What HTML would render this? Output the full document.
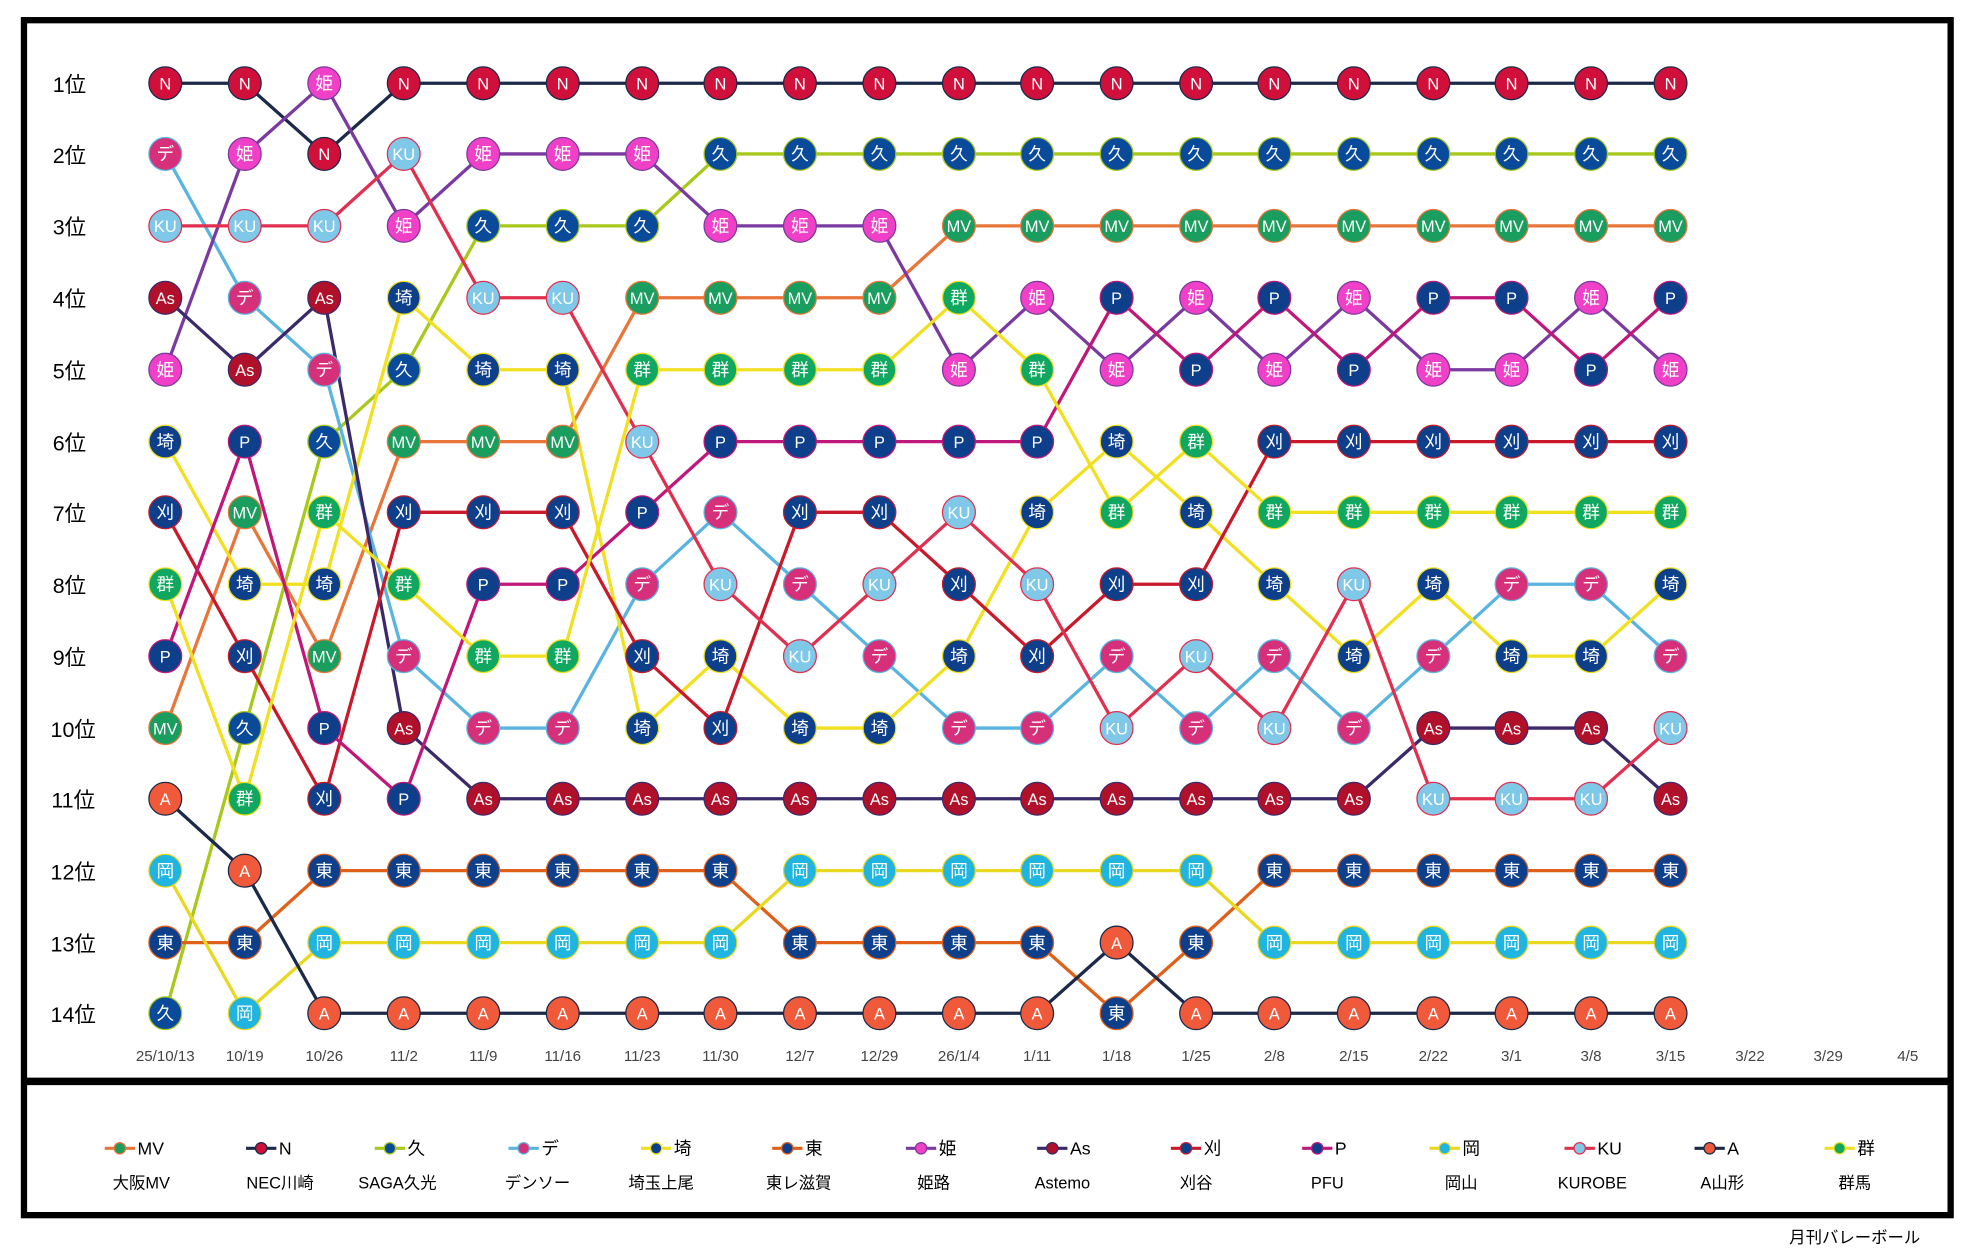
<!DOCTYPE html>
<html><head><meta charset="utf-8"><style>
html,body{margin:0;padding:0;background:#fff;}
svg{display:block;}
text{font-family:"Liberation Sans","Noto Sans CJK JP",sans-serif;}
</style></head><body>
<svg id="s" width="1962" height="1253" viewBox="0 0 1555 993" preserveAspectRatio="none" xmlns="http://www.w3.org/2000/svg">
<rect x="0" y="0" width="1555" height="993" fill="#fff"/>
<rect x="19" y="16" width="1527" height="947" fill="none" stroke="#000" stroke-width="5"/>
<line x1="19" y1="857" x2="1546" y2="857" stroke="#000" stroke-width="6"/>
<g id="g"></g>
<text x="1470" y="985" font-size="13" text-anchor="middle" fill="#000">月刊バレーボール</text>
</svg>
<script>
var T={
"MV":["#1a9e5f","#e8763a","大阪MV"],
"N":["#d0103a","#1c2a4a","NEC川崎"],
"久":["#0a4a9a","#a8c81c","SAGA久光"],
"デ":["#d6307a","#5ab4e0","デンソー"],
"埼":["#0d3f8a","#f0e020","埼玉上尾"],
"東":["#0d3f8a","#e0601a","東レ滋賀"],
"姫":["#f040c8","#7a3aa0","姫路"],
"As":["#b0102a","#3a2a6a","Astemo"],
"刈":["#0d3f8a","#c81a2a","刈谷"],
"P":["#0d3f8a","#c0187a","PFU"],
"岡":["#20b4e0","#e8d820","岡山"],
"KU":["#80c8e8","#e03050","KUROBE"],
"A":["#f05a3a","#1c2a4a","A山形"],
"群":["#10a860","#f0e020","群馬"]};
var W=[
"N デ KU As 姫 埼 刈 群 P MV A 岡 東 久",
"N 姫 KU デ As P MV 埼 刈 久 群 A 東 岡",
"姫 N KU As デ 久 群 埼 MV P 刈 東 岡 A",
"N KU 姫 埼 久 MV 刈 群 デ As P 東 岡 A",
"N 姫 久 KU 埼 MV 刈 P 群 デ As 東 岡 A",
"N 姫 久 KU 埼 MV 刈 P 群 デ As 東 岡 A",
"N 姫 久 MV 群 KU P デ 刈 埼 As 東 岡 A",
"N 久 姫 MV 群 P デ KU 埼 刈 As 東 岡 A",
"N 久 姫 MV 群 P 刈 デ KU 埼 As 岡 東 A",
"N 久 姫 MV 群 P 刈 KU デ 埼 As 岡 東 A",
"N 久 MV 群 姫 P KU 刈 埼 デ As 岡 東 A",
"N 久 MV 姫 群 P 埼 KU 刈 デ As 岡 東 A",
"N 久 MV P 姫 埼 群 刈 デ KU As 岡 A 東",
"N 久 MV 姫 P 群 埼 刈 KU デ As 岡 東 A",
"N 久 MV P 姫 刈 群 埼 デ KU As 東 岡 A",
"N 久 MV 姫 P 刈 群 KU 埼 デ As 東 岡 A",
"N 久 MV P 姫 刈 群 埼 デ As KU 東 岡 A",
"N 久 MV P 姫 刈 群 デ 埼 As KU 東 岡 A",
"N 久 MV 姫 P 刈 群 デ 埼 As KU 東 岡 A",
"N 久 MV P 姫 刈 群 埼 デ KU As 東 岡 A"].map(function(s){return s.split(" ")});
var X=[131,194,257,320,383,446,509,571,634,697,760,822,885,948,1010,1073,1136,1198,1261,1324,1387,1449,1512];
var Y=[66,122,179,236,293,350,406,463,520,577,633,690,747,803];
var D=["25/10/13","10/19","10/26","11/2","11/9","11/16","11/23","11/30","12/7","12/29","26/1/4","1/11","1/18","1/25","2/8","2/15","2/22","3/1","3/8","3/15","3/22","3/29","4/5"];
var h="";
for(var i=0;i<14;i++){h+='<text x="'+(i<9?55:58)+'" y="'+(Y[i]+7)+'" font-size="17" text-anchor="middle" fill="#000">'+(i+1)+'位</text>';}
for(var i=0;i<D.length;i++){h+='<text x="'+X[i]+'" y="841" font-size="12" text-anchor="middle" fill="#444">'+D[i]+'</text>';}
function pos(t,w){return W[w].indexOf(t);}
for(var t in T){var p="";for(var w=0;w<20;w++){var r=pos(t,w);p+=(w?"L":"M")+X[w]+" "+Y[r];}
h+='<path d="'+p+'" fill="none" stroke="'+T[t][1]+'" stroke-width="2.6"/>';}
for(var w=0;w<20;w++)for(var r=0;r<14;r++){var t=W[w][r];
h+='<circle cx="'+X[w]+'" cy="'+Y[r]+'" r="13" fill="'+T[t][0]+'" stroke="'+T[t][1]+'" stroke-width="1"/>';
var lat=/^[A-Z]/.test(t);
h+='<text x="'+X[w]+'" y="'+(Y[r]+5)+'" font-size="'+(lat?13:14)+'" text-anchor="middle" fill="#fff">'+t+'</text>';}
var keys=["MV","N","久","デ","埼","東","姫","As","刈","P","岡","KU","A","群"];
var LX=[83,195,297,403,508,612,718,822,928,1032,1133,1240,1343,1446];
var LC=[112,222,315,426,524,633,740,842,948,1052,1158,1262,1365,1470];
for(var i=0;i<14;i++){var t=keys[i],x=LX[i];
h+='<line x1="'+x+'" y1="910" x2="'+(x+24)+'" y2="910" stroke="'+T[t][1]+'" stroke-width="2.5"/>';
h+='<circle cx="'+(x+12)+'" cy="910" r="4.5" fill="'+T[t][0]+'" stroke="'+T[t][1]+'" stroke-width="1"/>';
h+='<text x="'+(x+26)+'" y="915" font-size="14" fill="#000">'+t+'</text>';
h+='<text x="'+LC[i]+'" y="942" font-size="13" text-anchor="middle" fill="#000">'+T[t][2]+'</text>';}
document.getElementById("g").innerHTML=h;
</script>
</body></html>
